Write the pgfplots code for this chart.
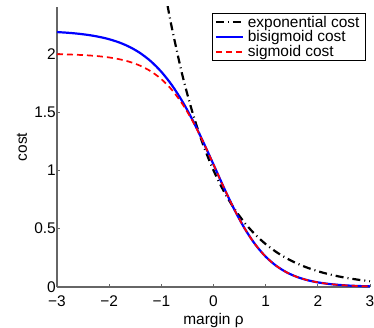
\documentclass[border=0pt]{standalone}
\usepackage{pgfplots}
\pgfplotsset{compat=1.18}
\usepackage{fontspec}
\setmainfont{Liberation Sans}
\begin{document}
\begin{tikzpicture}
\begin{axis}[
  scale only axis,
  width=313bp, height=280bp,
  xmin=-3, xmax=3, ymin=0, ymax=2.4,
  axis x line=bottom, axis y line=left,
  axis line style={-, draw=black!60, line width=1.1bp},
  tick align=inside,
  major tick length=3.5bp,
  tick style={black!60, line width=0.8bp},
  xtick={-3,-2,-1,0,1,2,3},
  xticklabels={−3,−2,−1,0,1,2,3},
  ytick={0,0.5,1,1.5,2},
  yticklabels={0,0.5,1,1.5,2},
  font=\fontsize{15.5}{17}\selectfont,
  ticklabel style={font=\fontsize{15.5}{17}\selectfont},
  xticklabel style={yshift=-7.5bp, inner sep=1bp},
  yticklabel style={inner xsep=1bp, inner ysep=1bp},
  xlabel={margin ρ},
  ylabel={cost},
  xlabel style={at={(axis description cs:0.5,-0.121)}, anchor=center},
  ylabel style={at={(axis description cs:-0.112,0.5)}, anchor=center},
  legend cell align=left,
  legend image code/.code={\draw[#1] (0bp,0bp) -- (27bp,0bp);},
  legend style={at={(axis description cs:0.9872,0.9786)}, anchor=north east,
    draw=black, line width=1bp, inner xsep=2bp, inner ysep=1bp,
    row sep=-1bp,
    font=\fontsize{15.5}{17}\selectfont,
    nodes={inner xsep=4bp, inner ysep=1.5bp}},
]
\addplot[black, line width=2.2bp, dash pattern=on 8bp off 4bp on 1bp off 4bp, smooth] coordinates {
(-0.88,2.4109) (-0.8,2.2255) (-0.6,1.8221) (-0.4,1.4918) (-0.2,1.2214) (0,1)
(0.2,0.8187) (0.4,0.6703) (0.6,0.5488) (0.8,0.4493) (1.0,0.3679) (1.2,0.3012)
(1.4,0.2466) (1.6,0.2019) (1.8,0.1653) (2.0,0.1353) (2.2,0.1108) (2.4,0.0907)
(2.6,0.0743) (2.8,0.0608) (3.0,0.0498)};
\addlegendentry{exponential cost}
\addplot[blue, line width=2.2bp, smooth] coordinates {
(-3.0,2.1852) (-2.8,2.1794) (-2.6,2.1714) (-2.4,2.1602) (-2.2,2.1448) (-2.0,2.1237)
(-1.8,2.0949) (-1.6,2.0558) (-1.4,2.0034) (-1.2,1.9343) (-1.0,1.8447) (-0.8,1.7316)
(-0.6,1.5931) (-0.4,1.4300) (-0.2,1.2464) (0.0,1.0500) (0.2,0.8511) (0.4,0.6636)
(0.6,0.4995) (0.8,0.3649) (1.0,0.2602) (1.2,0.1823) (1.4,0.1260) (1.6,0.0862)
(1.8,0.0586) (2.0,0.0397) (2.2,0.0268) (2.4,0.0180) (2.6,0.0121) (2.8,0.0081) (3.0,0.0055)};
\addlegendentry{bisigmoid cost}
\addplot[red, line width=1.7bp, dash pattern=on 6bp off 4bp, smooth] coordinates {
(-3.0,1.9955) (-2.8,1.9933) (-2.6,1.9901) (-2.4,1.9852) (-2.2,1.9780) (-2.0,1.9674)
(-1.8,1.9518) (-1.6,1.9289) (-1.4,1.8957) (-1.2,1.8483) (-1.0,1.7818) (-0.8,1.6911)
(-0.6,1.5717) (-0.4,1.4219) (-0.2,1.2449) (0.0,1.0500) (0.2,0.8511) (0.4,0.6636)
(0.6,0.4995) (0.8,0.3649) (1.0,0.2602) (1.2,0.1823) (1.4,0.1260) (1.6,0.0862)
(1.8,0.0586) (2.0,0.0397) (2.2,0.0268) (2.4,0.0180) (2.6,0.0121) (2.8,0.0081) (3.0,0.0055)};
\addlegendentry{sigmoid cost}
\coordinate (O) at (rel axis cs:0,0);
\end{axis}
\pgfresetboundingbox
\path[use as bounding box] ([shift={(-57bp,-41bp)}]O) rectangle ([shift={(317bp,287bp)}]O);
\end{tikzpicture}
\end{document}
